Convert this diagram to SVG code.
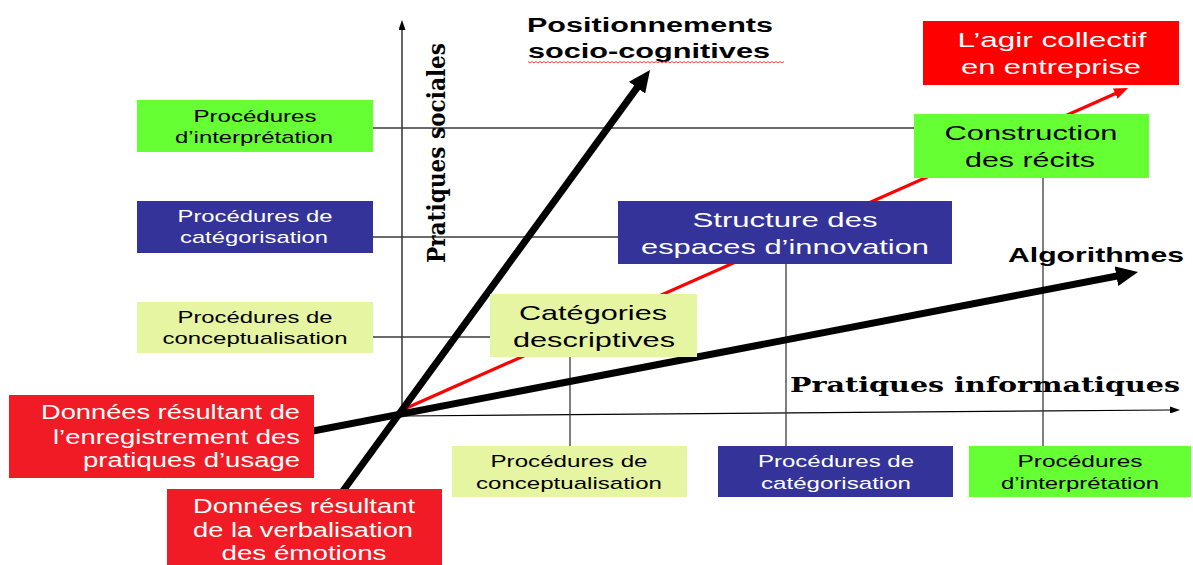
<svg xmlns="http://www.w3.org/2000/svg" width="1193" height="565" viewBox="0 0 1193 565">
<style>
.bg{fill:#ffffff}
.green{fill:#66FF33}
.blue{fill:#333399}
.light{fill:#E6F5A2}
.red{fill:#FF0000}
.dred{fill:#F01B24}
.t{font-family:"Liberation Sans",Arial,sans-serif;text-anchor:middle}
.s17{font-size:17px}
.s20{font-size:20px}
.s21{font-size:21px}
.dk{fill:#000000}
.wh{fill:#ffffff}
.conn{stroke:#3a3a3a;stroke-width:1.3;fill:none}
.axis{stroke:#000000;stroke-width:1.2;fill:none}
.thick{stroke:#000000;stroke-width:7;fill:none;stroke-linecap:butt}
.redl{stroke:#FF0000;stroke-width:3.2;fill:none}
.lbl{font-family:"Liberation Sans",Arial,sans-serif;font-weight:bold;fill:#000}
.serif{font-family:"DejaVu Serif","Liberation Serif",serif;font-weight:bold;fill:#000}
</style>
<defs>
<marker id="headBig" markerUnits="userSpaceOnUse" viewBox="0 0 22 20" refX="6" refY="10" markerWidth="22" markerHeight="20" orient="auto">
<path d="M0,0 L22,10 L0,20 z" fill="#000"/>
</marker>
<marker id="headRed" markerUnits="userSpaceOnUse" viewBox="0 0 14 11" refX="4" refY="5.5" markerWidth="14" markerHeight="11" orient="auto">
<path d="M0,0 L14,5.5 L0,11 z" fill="#FF0000"/>
</marker>
<marker id="headAxis" markerUnits="userSpaceOnUse" viewBox="0 0 10 7" refX="1" refY="3.5" markerWidth="10" markerHeight="7" orient="auto">
<path d="M0,0 L10,3.5 L0,7 z" fill="#000"/>
</marker>
</defs>
<rect class="bg" x="0" y="0" width="1193" height="565"/>

<g id="connectors">
<line class="axis" x1="402" y1="416" x2="402" y2="29" marker-end="url(#headAxis)"/>
<line class="axis" x1="402" y1="416" x2="1171" y2="410" marker-end="url(#headAxis)"/>
<line class="conn" x1="373" y1="128" x2="914" y2="128"/>
<line class="conn" x1="373" y1="237" x2="618" y2="237"/>
<line class="conn" x1="373" y1="337" x2="490" y2="337"/>
<line class="conn" x1="570" y1="356" x2="570" y2="446"/>
<line class="conn" x1="786" y1="264" x2="786" y2="446"/>
<line class="conn" x1="1043" y1="178" x2="1043" y2="446"/>
<line class="redl" x1="402" y1="410" x2="1118.9" y2="92" marker-end="url(#headRed)"/>
<line class="thick" x1="340" y1="495" x2="640.6" y2="82.9" marker-end="url(#headBig)"/>
<line class="thick" x1="300" y1="433.5" x2="1122.3" y2="275" marker-end="url(#headBig)"/>
</g>

<g id="axis-labels">
<text class="serif" font-size="24" transform="translate(445,263) rotate(-90)" textLength="220" lengthAdjust="spacingAndGlyphs">Pratiques sociales</text>
<text class="serif" font-size="20" x="790" y="392" textLength="390" lengthAdjust="spacingAndGlyphs">Pratiques informatiques</text>
</g>

<g id="positionnements">
<text class="lbl" font-size="20" text-anchor="middle" x="650" y="32" textLength="246" lengthAdjust="spacingAndGlyphs">Positionnements</text>
<text class="lbl" font-size="20" text-anchor="middle" x="649" y="58" textLength="242" lengthAdjust="spacingAndGlyphs">socio-cognitives</text>
<path d="M528,61.5 l2,1.5 2,-1.5 2,1.5 2,-1.5 2,1.5 2,-1.5 2,1.5 2,-1.5 2,1.5 2,-1.5 2,1.5 2,-1.5 2,1.5 2,-1.5 2,1.5 2,-1.5 2,1.5 2,-1.5 2,1.5 2,-1.5 2,1.5 2,-1.5 2,1.5 2,-1.5 2,1.5 2,-1.5 2,1.5 2,-1.5 2,1.5 2,-1.5 2,1.5 2,-1.5 2,1.5 2,-1.5 2,1.5 2,-1.5 2,1.5 2,-1.5 2,1.5 2,-1.5 2,1.5 2,-1.5 2,1.5 2,-1.5 2,1.5 2,-1.5 2,1.5 2,-1.5 2,1.5 2,-1.5 2,1.5 2,-1.5 2,1.5 2,-1.5 2,1.5 2,-1.5 2,1.5 2,-1.5 2,1.5 2,-1.5 2,1.5 2,-1.5 2,1.5 2,-1.5 2,1.5 2,-1.5 2,1.5 2,-1.5 2,1.5 2,-1.5 2,1.5 2,-1.5 2,1.5 2,-1.5 2,1.5 2,-1.5 2,1.5 2,-1.5 2,1.5 2,-1.5 2,1.5 2,-1.5 2,1.5 2,-1.5 2,1.5 2,-1.5 2,1.5 2,-1.5 2,1.5 2,-1.5 2,1.5 2,-1.5 2,1.5 2,-1.5 2,1.5 2,-1.5 2,1.5 2,-1.5 2,1.5 2,-1.5 2,1.5 2,-1.5 2,1.5 2,-1.5 2,1.5 2,-1.5 2,1.5 2,-1.5 2,1.5 2,-1.5 2,1.5 2,-1.5 2,1.5 2,-1.5 2,1.5 2,-1.5 2,1.5 2,-1.5 2,1.5 2,-1.5 2,1.5 2,-1.5 2,1.5 2,-1.5 2,1.5 2,-1.5 2,1.5 2,-1.5" fill="none" stroke="#E53030" stroke-width="0.9"/>
</g>

<g id="algorithmes">
<text class="lbl" font-size="21" x="1008" y="262" textLength="176" lengthAdjust="spacingAndGlyphs">Algorithmes</text>
</g>

<g id="left-interpretation">
<rect class="green" x="137" y="100" width="236" height="52"/>
<text class="t s17 dk" x="255" y="122" textLength="123" lengthAdjust="spacingAndGlyphs">Procédures</text>
<text class="t s17 dk" x="254" y="143" textLength="158" lengthAdjust="spacingAndGlyphs">d’interprétation</text>
</g>
<g id="left-categorisation">
<rect class="blue" x="137" y="201" width="236" height="52"/>
<text class="t s17 wh" x="255" y="222" textLength="155" lengthAdjust="spacingAndGlyphs">Procédures de</text>
<text class="t s17 wh" x="254" y="243" textLength="148" lengthAdjust="spacingAndGlyphs">catégorisation</text>
</g>
<g id="left-conceptualisation">
<rect class="light" x="137" y="302" width="236" height="51"/>
<text class="t s17 dk" x="255" y="323" textLength="155" lengthAdjust="spacingAndGlyphs">Procédures de</text>
<text class="t s17 dk" x="255" y="344" textLength="185" lengthAdjust="spacingAndGlyphs">conceptualisation</text>
</g>

<g id="categories-descriptives">
<rect class="light" x="490" y="294" width="207" height="63"/>
<text class="t s21 dk" x="593" y="320" textLength="148" lengthAdjust="spacingAndGlyphs">Catégories</text>
<text class="t s21 dk" x="594" y="347" textLength="162" lengthAdjust="spacingAndGlyphs">descriptives</text>
</g>
<g id="structure-espaces">
<rect class="blue" x="618" y="201" width="334" height="63"/>
<text class="t s21 wh" x="785" y="227" textLength="185" lengthAdjust="spacingAndGlyphs">Structure des</text>
<text class="t s21 wh" x="785" y="254" textLength="288" lengthAdjust="spacingAndGlyphs">espaces d’innovation</text>
</g>
<g id="construction-recits">
<rect class="green" x="914" y="114" width="235" height="64"/>
<text class="t s21 dk" x="1031" y="140" textLength="173" lengthAdjust="spacingAndGlyphs">Construction</text>
<text class="t s21 dk" x="1030" y="167" textLength="130" lengthAdjust="spacingAndGlyphs">des récits</text>
</g>
<g id="agir-collectif">
<rect class="red" x="923" y="21" width="256" height="64"/>
<text class="t s21 wh" x="1052" y="47" textLength="189" lengthAdjust="spacingAndGlyphs">L’agir collectif</text>
<text class="t s21 wh" x="1051" y="74" textLength="180" lengthAdjust="spacingAndGlyphs">en entreprise</text>
</g>

<g id="donnees-enregistrement">
<rect class="dred" x="9" y="395" width="305" height="83"/>
<text class="t s20 wh" style="text-anchor:end" x="300" y="419" textLength="259" lengthAdjust="spacingAndGlyphs">Données résultant de</text>
<text class="t s20 wh" style="text-anchor:end" x="300" y="444" textLength="247" lengthAdjust="spacingAndGlyphs">l’enregistrement des</text>
<text class="t s20 wh" style="text-anchor:end" x="300" y="467" textLength="217" lengthAdjust="spacingAndGlyphs">pratiques d’usage</text>
</g>
<g id="donnees-verbalisation">
<rect class="dred" x="167" y="489" width="275" height="76"/>
<text class="t s20 wh" x="304" y="513" textLength="222" lengthAdjust="spacingAndGlyphs">Données résultant</text>
<text class="t s20 wh" x="303" y="537" textLength="220" lengthAdjust="spacingAndGlyphs">de la verbalisation</text>
<text class="t s20 wh" x="304" y="560" textLength="165" lengthAdjust="spacingAndGlyphs">des émotions</text>
</g>

<g id="bottom-conceptualisation">
<rect class="light" x="452" y="446" width="235" height="51"/>
<text class="t s17 dk" x="569" y="467" textLength="157" lengthAdjust="spacingAndGlyphs">Procédures de</text>
<text class="t s17 dk" x="569" y="489" textLength="186" lengthAdjust="spacingAndGlyphs">conceptualisation</text>
</g>
<g id="bottom-categorisation">
<rect class="blue" x="718" y="446" width="235" height="51"/>
<text class="t s17 wh" x="836" y="467" textLength="156" lengthAdjust="spacingAndGlyphs">Procédures de</text>
<text class="t s17 wh" x="836" y="489" textLength="150" lengthAdjust="spacingAndGlyphs">catégorisation</text>
</g>
<g id="bottom-interpretation">
<rect class="green" x="969" y="446" width="222" height="51"/>
<text class="t s17 dk" x="1080" y="467" textLength="125" lengthAdjust="spacingAndGlyphs">Procédures</text>
<text class="t s17 dk" x="1080" y="489" textLength="158" lengthAdjust="spacingAndGlyphs">d’interprétation</text>
</g>
</svg>
